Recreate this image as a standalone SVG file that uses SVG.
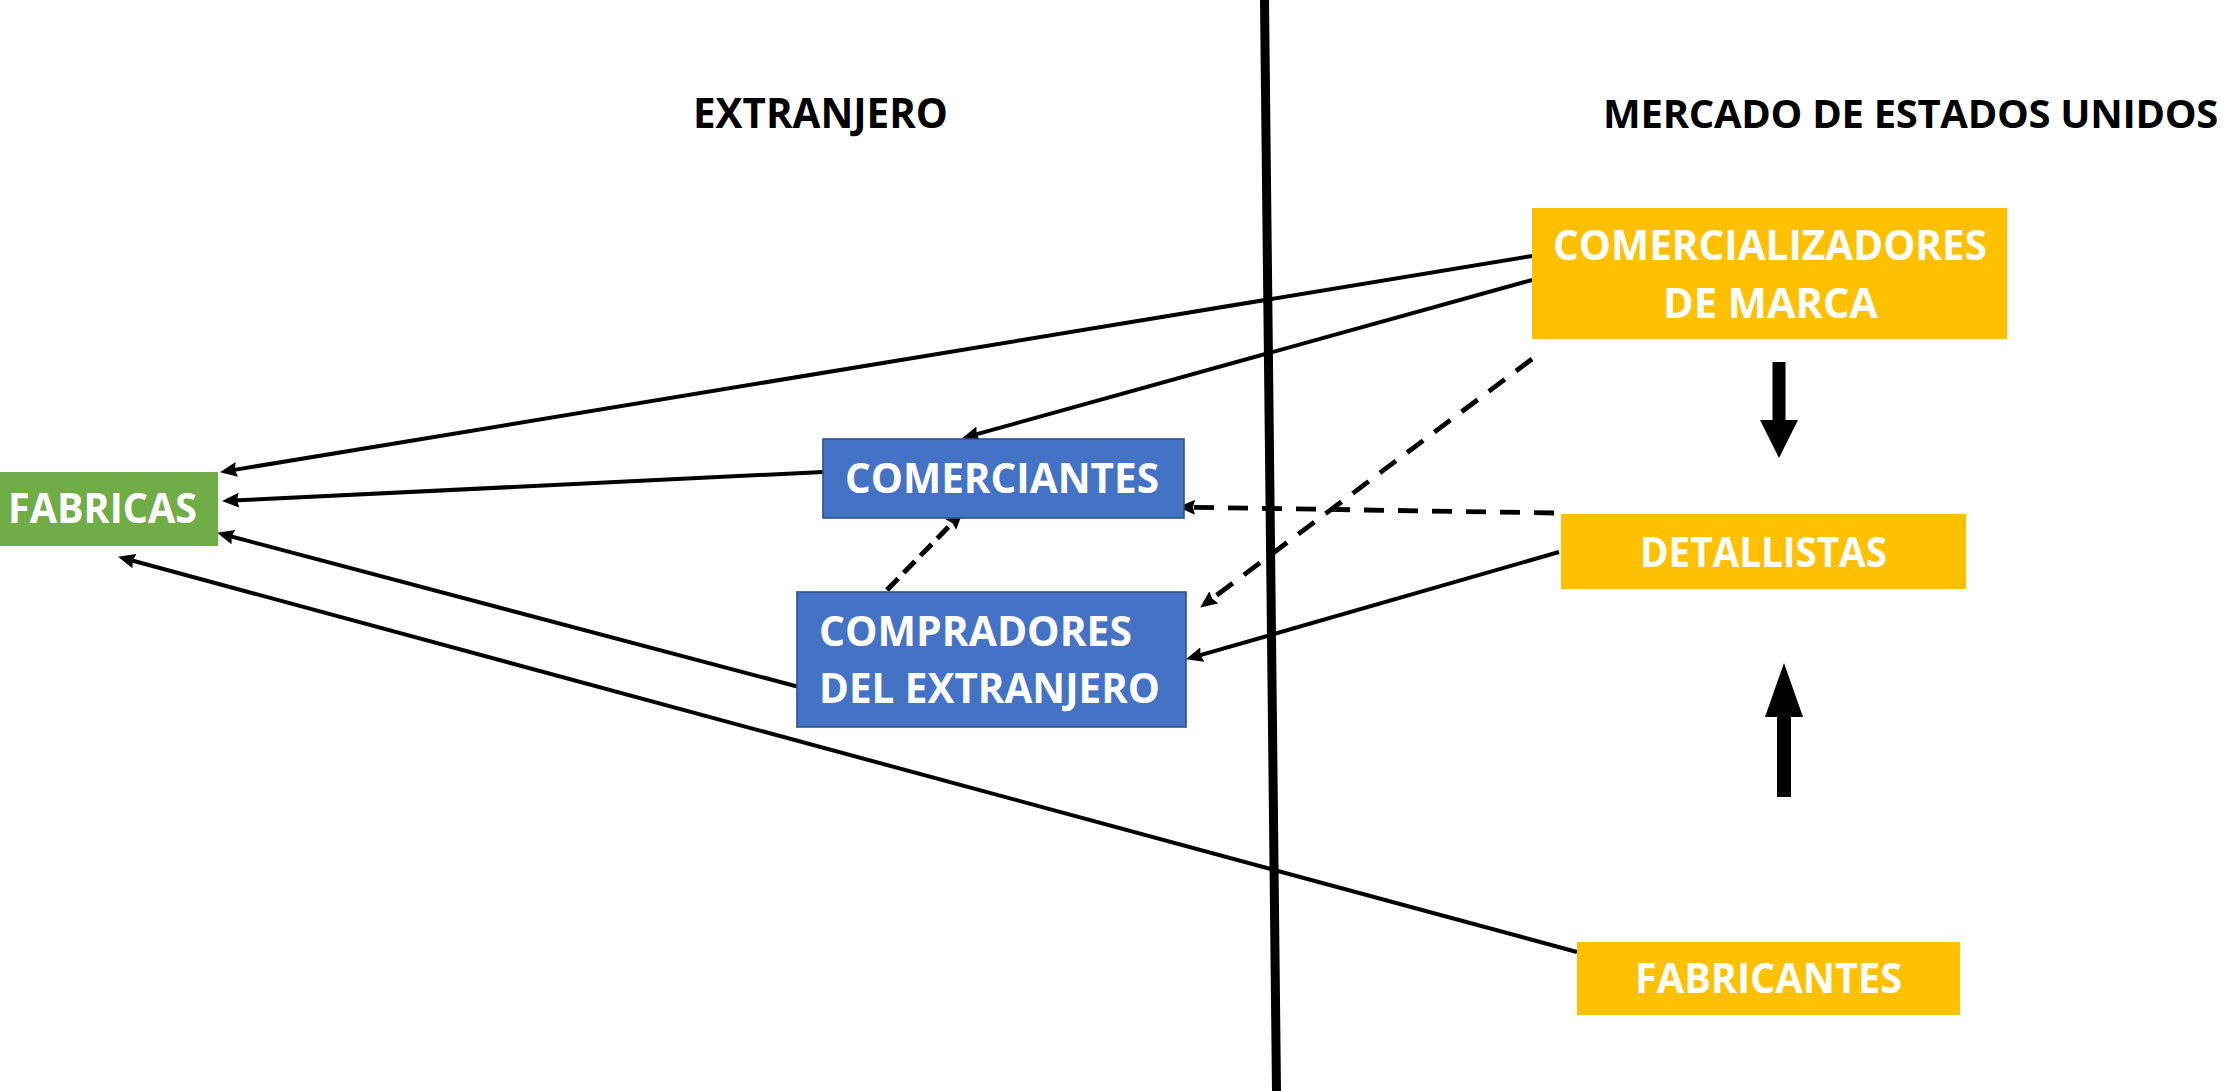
<svg xmlns="http://www.w3.org/2000/svg" width="2228" height="1091" viewBox="0 0 2228 1091">
<style>
.t{font-family:"Open Sans","Noto Sans","Liberation Sans",sans-serif;font-weight:700;font-size:42px}
.w{fill:#ffffff}
.k{fill:#000000}
.orange{fill:#FFC000}
.green{fill:#70AD47}
.blue{fill:#4472C4;stroke:#2F528F;stroke-width:1.6}
.c{fill:none;stroke:#000;stroke-width:4;marker-end:url(#ah)}
.d{fill:none;stroke:#000;stroke-width:4.8;stroke-dasharray:20 14;marker-end:url(#ah)}
.d2{fill:none;stroke:#000;stroke-width:5;stroke-dasharray:16 8;marker-end:url(#ah)}
</style>
<defs>
<marker id="ah" viewBox="0 0 17 15" markerWidth="17" markerHeight="15" markerUnits="userSpaceOnUse" refX="12" refY="7.5" orient="auto">
<path d="M0,0 L17,7.5 L0,15 L2,7.5 z" fill="#000"/>
</marker>
</defs>
<rect width="2228" height="1091" fill="#ffffff"/>
<g id="divider">
<line x1="1264.5" y1="0" x2="1276.5" y2="1091" stroke="#000" stroke-width="9"/>
</g>
<g id="headers">
<text class="t k" x="693" y="128" textLength="255" lengthAdjust="spacingAndGlyphs">EXTRANJERO</text>
<text class="t k" x="2218" y="128" text-anchor="end" style="font-size:40px;letter-spacing:-0.3px">MERCADO DE ESTADOS UNIDOS</text>
</g>
<g id="connectors">
<line class="c" x1="1532" y1="256" x2="225" y2="471.4"/>
<line class="c" x1="1532" y1="280" x2="966.9" y2="436.9"/>
<line class="c" x1="823" y1="472" x2="227" y2="500.8"/>
<line class="c" x1="799" y1="687" x2="221.9" y2="534"/>
<line class="c" x1="1577" y1="952" x2="122.9" y2="558"/>
<line class="c" x1="1559" y1="552" x2="1190.8" y2="657.9"/>
<line class="d2" x1="887" y1="590" x2="959.2" y2="515.9"/>
<line class="d" x1="1554" y1="513" x2="1183" y2="507.1"/>
<line class="d" x1="1532" y1="359" x2="1204.2" y2="604.6"/>
<polygon points="1772.5,362 1785.5,362 1785.5,420 1798,420 1779,458 1760,420 1772.5,420" fill="#000"/>
<polygon points="1777,797 1791,797 1791,717 1803,717 1784,663 1765,717 1777,717" fill="#000"/>
</g>
<g id="fabricas">
<rect class="green" x="0" y="472" width="218" height="74"/>
<text class="t w" x="8" y="523" textLength="189" lengthAdjust="spacingAndGlyphs">FABRICAS</text>
</g>
<g id="comerciantes">
<rect class="blue" x="823" y="439" width="361" height="79"/>
<text class="t w" x="845" y="493" textLength="314" lengthAdjust="spacingAndGlyphs">COMERCIANTES</text>
</g>
<g id="compradores">
<rect class="blue" x="797" y="592" width="389" height="135"/>
<text class="t w" x="819" y="646" textLength="313" lengthAdjust="spacingAndGlyphs">COMPRADORES</text>
<text class="t w" x="819" y="703" textLength="341" lengthAdjust="spacingAndGlyphs">DEL EXTRANJERO</text>
</g>
<g id="comercializadores">
<rect class="orange" x="1532" y="208" width="475" height="131"/>
<text class="t w" x="1553" y="260" textLength="434" lengthAdjust="spacingAndGlyphs">COMERCIALIZADORES</text>
<text class="t w" x="1663" y="318" textLength="215" lengthAdjust="spacingAndGlyphs">DE MARCA</text>
</g>
<g id="detallistas">
<rect class="orange" x="1561" y="514" width="405" height="75"/>
<text class="t w" x="1640" y="567" textLength="247" lengthAdjust="spacingAndGlyphs">DETALLISTAS</text>
</g>
<g id="fabricantes">
<rect class="orange" x="1577" y="942" width="383" height="73"/>
<text class="t w" x="1635" y="993" textLength="267" lengthAdjust="spacingAndGlyphs">FABRICANTES</text>
</g>
</svg>
